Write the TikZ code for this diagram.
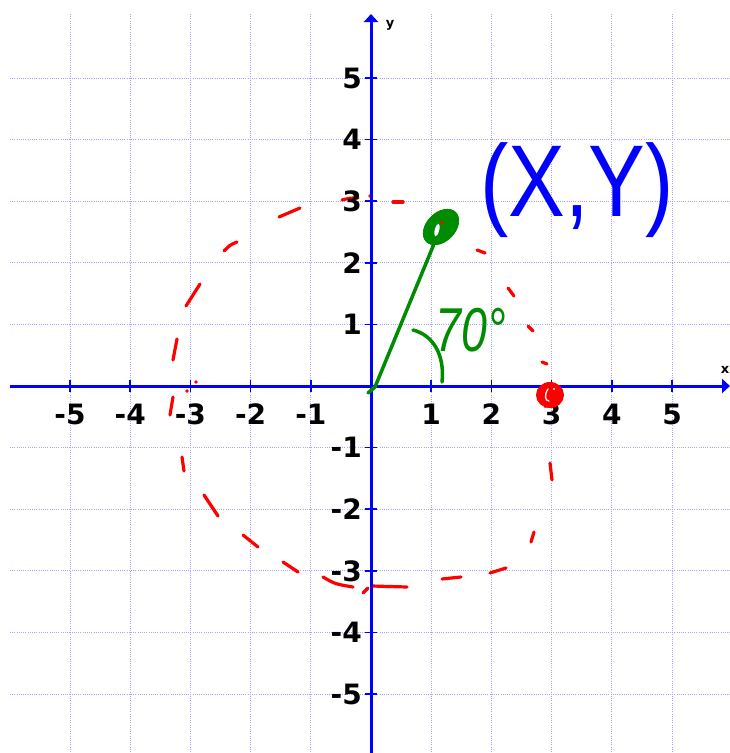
\documentclass[tikz,border=0pt]{standalone}
\usepackage{fontspec}
\setmainfont{DejaVu Sans}
\newfontfamily\handfont{Liberation Sans}
\usetikzlibrary{arrows.meta,shapes.geometric}
\definecolor{axisblue}{RGB}{0,0,255}
\definecolor{gridblue}{RGB}{165,165,255}
\definecolor{penred}{RGB}{255,0,0}
\definecolor{pengreen}{RGB}{0,140,0}
\definecolor{penblue}{RGB}{0,0,255}
\begin{document}
\begin{tikzpicture}[x=1pt,y=-1pt,
  gridline/.style={gridblue, line width=1pt, dash pattern=on 1pt off 1.2pt},
  axisline/.style={axisblue, line width=3pt},
  tickline/.style={axisblue, line width=1.6pt},
  ticklabel/.style={font=\fontsize{28}{28}\selectfont\bfseries, inner sep=0pt},
  axislabel/.style={font=\fontsize{13}{13}\selectfont\bfseries, inner sep=0pt},
  redpen/.style={penred, line width=3.2pt, line cap=round, line join=round},
  greenpen/.style={pengreen, line width=3.5pt, line cap=round, line join=round},
  arrowtip/.style={-{Triangle[width=14pt,length=8pt]}},
]
\fill[white] (0,0) rectangle (730,753);
\useasboundingbox (0,0) rectangle (730,753);

% grid
\foreach \k in {-5,-4,-3,-2,-1,1,2,3,4,5} {
  \draw[gridline] ({371+60.2*\k},14) -- ({371+60.2*\k},753);
  \draw[gridline] (10,{386-61.6*\k}) -- (730,{386-61.6*\k});
}

% red dashed circle (hand drawn)
\draw[redpen] (342,200) .. controls (350,198) .. (358,198);
\fill[penred] (370,196) circle[radius=1.8];
\draw[redpen] (393,202) -- (403,202);
\draw[redpen] (477,250) -- (485,253);
\draw[redpen] (508,288) -- (514,296);
\draw[redpen] (528,326) -- (533,331);
\draw[redpen] (542,362) -- (547,364);
\draw[redpen] (550,463) -- (552,480);
\draw[redpen] (531,542) -- (534,532);
\draw[redpen] (490,573) -- (506,568);
\draw[redpen] (442,579) -- (461,577);
\draw[redpen] (372,586) -- (407,587);
\draw[redpen] (363,593) -- (368,588);
\draw[redpen] (323,577) .. controls (335,584) .. (353,587);
\draw[redpen] (283,562) -- (298,572);
\draw[redpen] (243,535) -- (258,547);
\draw[redpen] (204,495) -- (218,516);
\draw[redpen] (182,457) -- (184,471);
\draw[redpen] (173,397) -- (170,415);
\fill[penred] (187,391) circle[radius=1.8];
\fill[penred] (196,382) circle[radius=1.8];
\draw[redpen] (173,360) -- (177,339);
\draw[redpen] (186,306) -- (200,284);
\draw[redpen] (224,251) .. controls (230,245) .. (237,242);
\draw[redpen] (279,217) -- (300,208);

% axes
\coordinate (ybot) at (371,753);
\coordinate (ytop) at (371,14);
\coordinate (xleft) at (10,386);
\coordinate (xright) at (730,386);
\draw[axisline,arrowtip] (ybot) -- (ytop);
\draw[axisline,arrowtip] (xleft) -- (xright);

% ticks and labels
\foreach \k in {-5,-4,-3,-2,-1,1,2,3,4,5} {
  \draw[tickline] ({371+60.2*\k},380) -- ({371+60.2*\k},392);
  \node[ticklabel] (xl\k) at ({371+60.2*\k},414) {\k};
  \draw[tickline] (365,{386-61.6*\k}) -- (377,{386-61.6*\k});
  \node[ticklabel, anchor=east] (yl\k) at (362,{386-61.6*\k}) {\k};
}
\node[axislabel] (xname) at (725,370) {x};
\node[axislabel] (yname) at (390,25) {y};

% red point at (3,0)
\node[ellipse, fill=penred, inner sep=0pt, minimum width=28pt, minimum height=26pt] (Q) at (550,395) {};
\draw[white, line width=1.3pt, line cap=round] (548,389) .. controls (544,395) and (545,401) .. (549,401);
\fill[white] (554,389) circle[radius=1.2];

% green ray and point
\coordinate (O) at (368,393);
\node[ellipse, fill=pengreen, inner sep=0pt, minimum width=42pt, minimum height=29pt, rotate=45] (P) at (441,227) {};
\draw[greenpen] (O) -- (375,387) -- (P);
\node[ellipse, fill=pengreen, inner sep=0pt, minimum width=42pt, minimum height=29pt, rotate=45] (P2) at (441,227) {};
\fill[white, rotate around={-15:(437,230)}] (437,230) ellipse[x radius=2.2, y radius=6.5];
\draw[penred, line width=1.5pt] (440,223) -- (444,222);

% angle mark
\draw[greenpen] (413,330) .. controls (433,335) and (445,355) .. (442,382);
\node[pengreen, font=\handfont\itshape\fontsize{62}{62}\selectfont, inner sep=0pt] (ang) at (471,330) {\scalebox{0.75}[1]{70°}};

% (X,Y)
\node[penblue, font=\handfont\fontsize{85}{85}\selectfont, inner sep=0pt, anchor=base] (xy) at (577,216) {\scalebox{1}[1.2]{(X,Y)}};
\end{tikzpicture}
\end{document}
